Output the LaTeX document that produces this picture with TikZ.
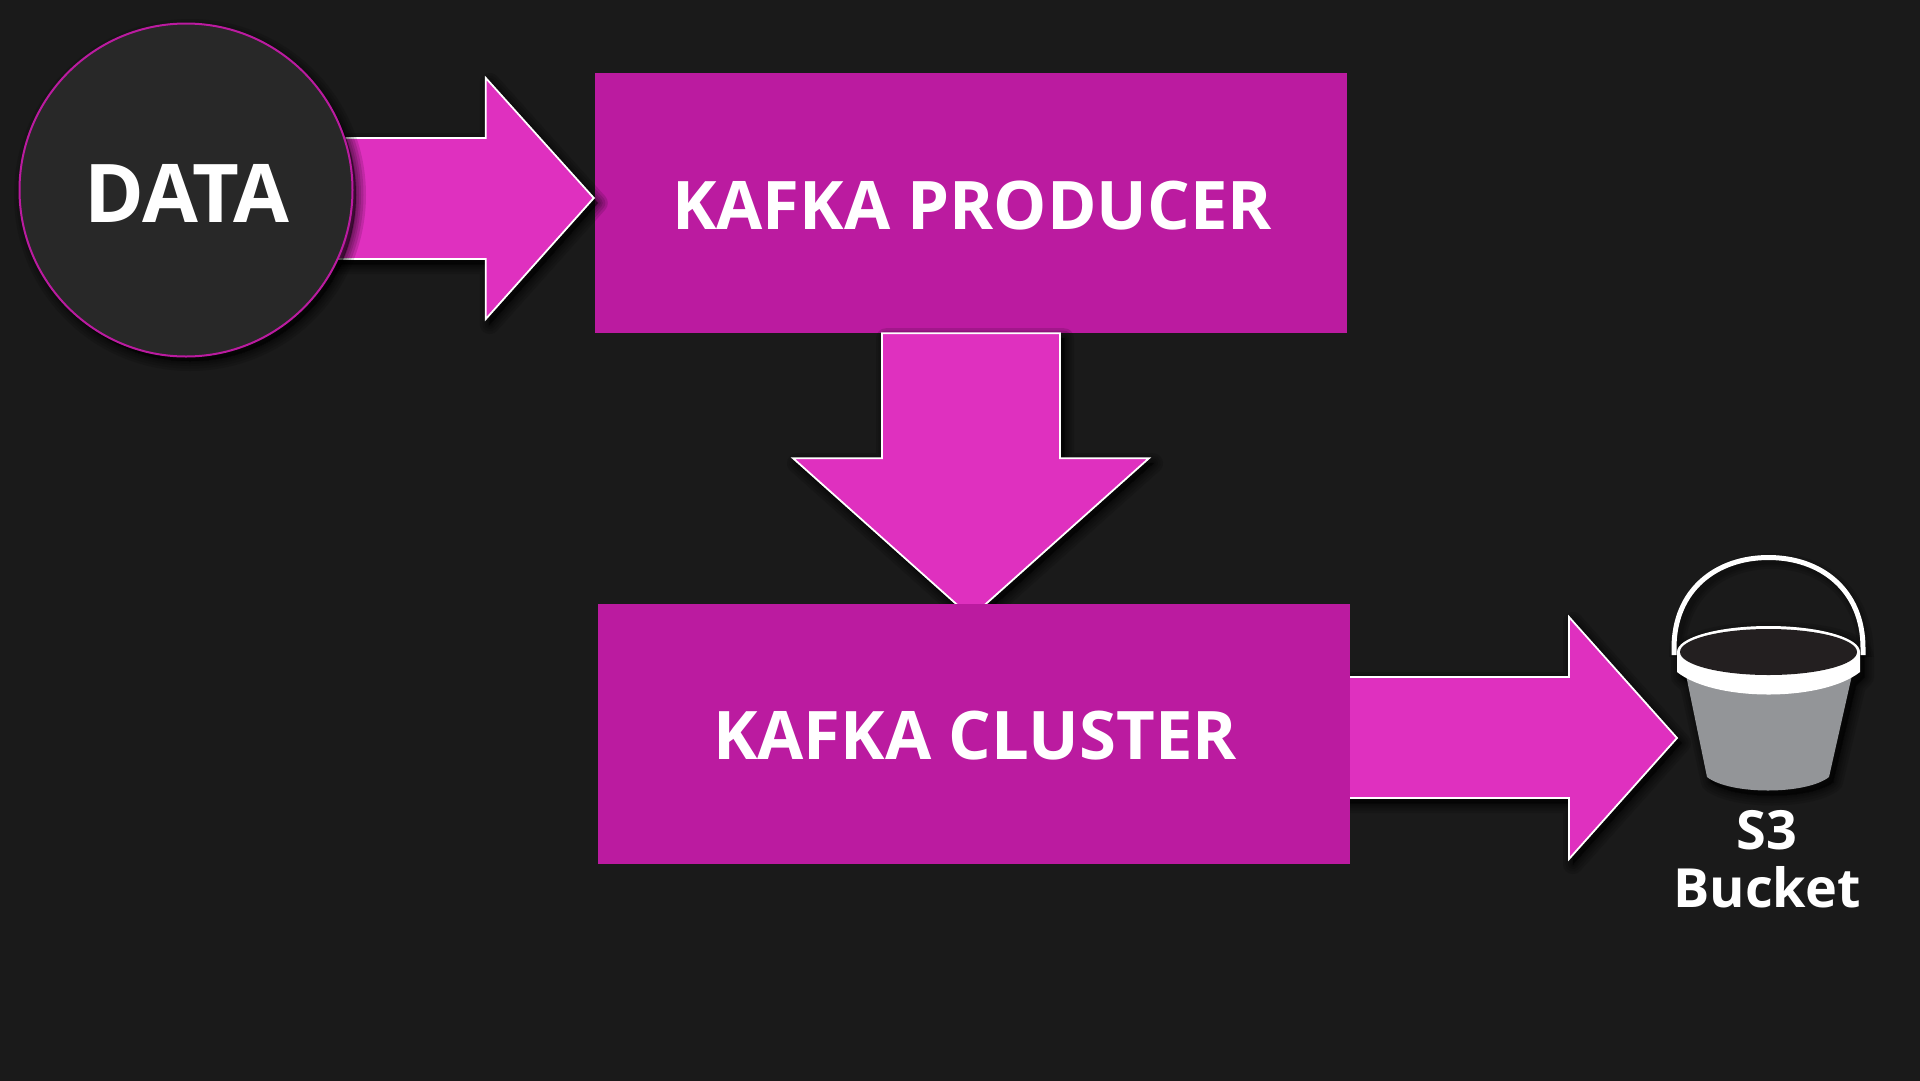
\documentclass[tikz,border=0pt]{standalone}
\usepackage{fontspec}
\setmainfont{Open Sans}
\usetikzlibrary{calc}
\definecolor{bgc}{HTML}{1A1A1A}
\definecolor{boxc}{HTML}{BB1BA0}
\definecolor{arrowc}{HTML}{DF30BF}
\definecolor{circc}{HTML}{282828}
\definecolor{pailc}{HTML}{939598}
\definecolor{innerc}{HTML}{231F20}
\tikzset{
  boxnode/.style={fill=boxc,draw=none,inner sep=0pt,text=white,font=\fontsize{67}{67}\selectfont\bfseries,align=center},
  bigarrow/.style={fill=arrowc,draw=white,line width=1.8pt,line join=miter,miter limit=10},
  soft/.style={fill=black,draw=black,line join=round,opacity=.13},
}
\def\sx{0}\def\sy{0}
\newcommand\softshadow[2]{%
  \def\sx{4}\def\sy{5}%
  \foreach \w in {20,15,10,6,2}{\path[soft,line width=\w pt,#1] #2;}%
  \def\sx{0}\def\sy{0}}
\def\arrowA{([shift={(\sx,\sy)}]tipA) -- ++(-108,-120) -- ++(0,60) -- ++(-310,0) -- ++(0,121) -- ++(310,0) -- ++(0,60) -- cycle}
\def\arrowB{([shift={(\sx,\sy)}]tipB) -- ++(178,-159) -- ++(-89,0) -- ++(0,-125) -- ++(-178,0) -- ++(0,125) -- ++(-89,0) -- cycle}
\def\arrowC{([shift={(\sx,\sy)}]tipC) -- ++(-108,-121) -- ++(0,60) -- ++(-240,0) -- ++(0,121) -- ++(240,0) -- ++(0,61) -- cycle}
\begin{document}
\begin{tikzpicture}[x=1pt,y=-1pt]
\useasboundingbox (0,0) rectangle (1920,1080);
\fill[bgc] (-5,-5) rectangle (1925,1085);
% boxes
\node[boxnode,minimum width=752pt,minimum height=260pt] (producer) at (971,203) {};
\coordinate (tipA) at ($(producer.west)+(-1,-5)$);
\coordinate (tipB) at ($(producer.south)+(0,284)$);
% cluster position, drawn after the arrows that run under it
\coordinate (clc) at (974,734);
\coordinate (tipC) at ($(clc)+(703,4)$);
\softshadow{}{\arrowB}
\draw[bigarrow] \arrowB;
\softshadow{}{\arrowC}
\draw[bigarrow] \arrowC;
\node[boxnode,minimum width=752pt,minimum height=260pt] (cluster) at (clc) {};
\node[boxnode,fill=none,text=white] (clusterlabel) at (975,736) {KAFKA CLUSTER};
\node[boxnode,fill=none,text=white] (producerlabel) at (972,205.5) {KAFKA PRODUCER};
% arrow from data to producer
\softshadow{}{\arrowA}
\draw[bigarrow] \arrowA;
% data circle
\coordinate (dc) at (186,190);
\softshadow{}{([shift={(\sx,\sy)}]dc) circle[radius=166]}
\node[circle,fill=circc,draw=boxc,line width=2pt,minimum size=333pt,inner sep=0pt] (data) at (dc) {};
\node[text=white,inner sep=0pt,font=\fontsize{81}{81}\selectfont\bfseries] (datalabel) at (187,193.5) {DATA};
% bucket
\def\bucketsil{(1677,653) -- (1677,672) -- (1686,680) -- (1707,777) .. controls (1730,795) and (1806,795) .. (1829,777) -- (1852,680) -- (1860,672) -- (1860,653) .. controls (1860,618) and (1677,618) .. (1677,653) -- cycle}
\softshadow{shift={(4,5)}}{\bucketsil}
\foreach \w in {16,11,7}{\draw[black,opacity=.12,line width=\w pt,shift={(3,4)}] (1674,653) .. controls (1674,590) and (1716,557) .. (1768.5,557) .. controls (1821,557) and (1863,590) .. (1863,653);}
\draw[white,line width=5pt] (1674,655) -- (1674,648) .. controls (1674,590) and (1716,557.5) .. (1768.5,557.5) .. controls (1821,557.5) and (1863,590) .. (1863,648) -- (1863,655);
\fill[pailc] (1686,675) -- (1707,777) .. controls (1730,795) and (1806,795) .. (1829,777) -- (1852,675) -- cycle;
\fill[white] (1677,652) -- (1677,672) .. controls (1715,702) and (1822,702) .. (1860,672) -- (1860,652) -- cycle;
\fill[white] (1768.5,652) ellipse[x radius=91.5, y radius=26];
\fill[innerc] (1768.5,652) ellipse[x radius=88.5, y radius=23];
\node[text=white,font=\fontsize{54}{58}\selectfont\bfseries,align=center,inner sep=0pt] (s3) at (1767,859) {S3\\Bucket};
\end{tikzpicture}
\end{document}
